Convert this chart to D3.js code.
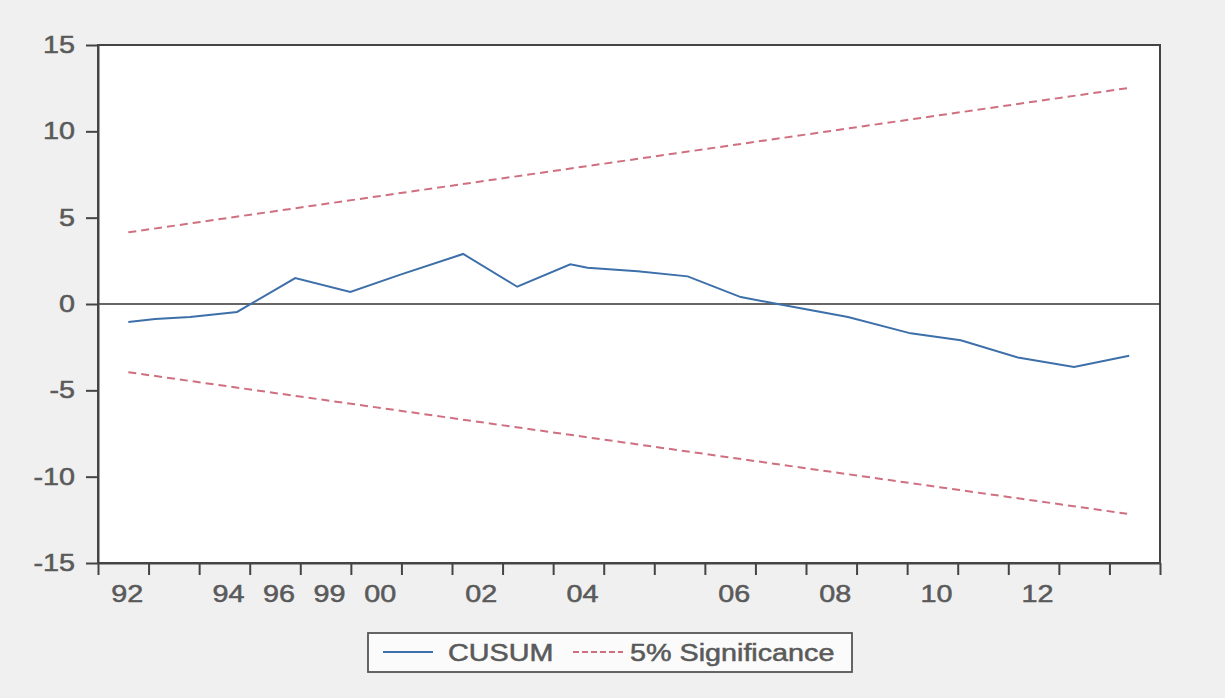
<!DOCTYPE html>
<html>
<head>
<meta charset="utf-8">
<script src="https://cdn.jsdelivr.net/npm/d3@7"></script>
<style>
  body { margin: 0; background: #f0f0f0; }
  svg { display: block; }
</style>
</head>
<body>
<div id="chart"></div>
<script>
// x is measured in axis slots: slot i sits between tick i-0.5 and i+0.5
const obs = [0.1, 0.63, 1.32, 2.25, 3.4, 4.49, 5.48, 6.72, 7.79, 8.84, 9.18,
  10.17, 11.16, 12.21, 12.94, 14.33, 15.57, 16.56, 17.69, 18.8, 19.89];
const cusum = [-1.04, -0.87, -0.75, -0.46, 1.5, 0.7, 1.7, 2.9, 1.0, 2.3, 2.1,
  1.9, 1.6, 0.4, 0.0, -0.75, -1.7, -2.1, -3.1, -3.65, -3.0];

// 5% bounds are straight lines, so only the ends are needed
const boundObs = [0.1, 19.85];
const upper = [4.15, 12.5];
const lower = [-3.95, -12.15];

const slotLabels = ['92', '', '94', '96', '99', '00', '', '02', '', '04', '',
  '', '06', '', '08', '', '10', '', '12', '', ''];
const yTicks = [-15, -10, -5, 0, 5, 10, 15];

const legendItems = ['CUSUM', '5% Significance'];

const width = 1225;
const height = 698;
const margins = {left: 98, top: 45, right: 65, bottom: 135};
const font = '"Liberation Sans", Arial, sans-serif';
const textColor = '#5a5a5a';
const axisColor = '#444';
const blue = '#3d6fa9';
const red = '#cf6f80';
const sx = 1.25; // the scanned text is wider than the font

const chartWidth = width - margins.left - margins.right;
const chartHeight = height - margins.top - margins.bottom;

const svg = d3.select('#chart')
  .append('svg')
  .attr('width', width)
  .attr('height', height);

const g = svg.append('g')
  .attr('transform', 'translate(' + margins.left + ',' + margins.top + ')');

const x = d3.scaleLinear()
  .domain([-0.5, slotLabels.length - 0.5])
  .range([0, chartWidth]);

const y = d3.scaleLinear()
  .domain([-15, 15])
  .range([chartHeight, 0]);

// scanned labels look a bit heavy
const styleText = (sel) =>
  sel
    .attr('font-family', font)
    .attr('font-size', 23)
    .attr('fill', textColor)
    .attr('stroke', textColor)
    .attr('stroke-width', 0.5);

// plot area
g.append('rect')
  .attr('width', chartWidth)
  .attr('height', chartHeight)
  .attr('fill', '#fff')
  .attr('stroke', axisColor)
  .attr('stroke-width', 2);

// zero line
g.append('line')
  .attr('x1', 0)
  .attr('x2', chartWidth)
  .attr('y1', y(0))
  .attr('y2', y(0))
  .attr('stroke', '#333')
  .attr('stroke-width', 1.6);

// Y axis
const yAxis = g.append('g')
  .call(d3.axisLeft(y).tickValues(yTicks).tickFormat((d) => String(d))
    .tickSize(12).tickSizeOuter(0));
yAxis.select('.domain').attr('stroke', axisColor).attr('stroke-width', 2);
yAxis.selectAll('.tick line').attr('stroke', axisColor).attr('stroke-width', 2);
yAxis.selectAll('.tick text')
  .attr('x', -23 / sx)
  .attr('transform', `scale(${sx},1)`)
  .call(styleText);

// X axis: ticks at slot edges, labels in the slots
const tickVals = d3.range(-0.5, slotLabels.length, 1);
const xAxis = g.append('g')
  .attr('transform', 'translate(0,' + chartHeight + ')')
  .call(d3.axisBottom(x).tickValues(tickVals).tickFormat('').tickSize(12).tickSizeOuter(0));
xAxis.select('.domain').attr('stroke', axisColor).attr('stroke-width', 2);
xAxis.selectAll('.tick line').attr('stroke', axisColor).attr('stroke-width', 2);

g.append('g')
  .selectAll('text')
  .data(slotLabels.map((t, i) => ({t, i})).filter((d) => d.t))
  .join('text')
  .attr('transform', (d) => `translate(${x(d.i) + 4},${chartHeight + 39}) scale(${sx},1)`)
  .attr('text-anchor', 'middle')
  .call(styleText)
  .text((d) => d.t);

// lines
const line = d3.line().x((d) => x(d[0])).y((d) => y(d[1]));

const bounds = [d3.zip(boundObs, upper), d3.zip(boundObs, lower)];
g.selectAll('.bound')
  .data(bounds)
  .join('path')
  .attr('class', 'bound')
  .attr('d', line)
  .attr('fill', 'none')
  .attr('stroke', red)
  .attr('stroke-width', 2)
  .attr('stroke-dasharray', '8,5');

g.append('path')
  .datum(d3.zip(obs, cusum))
  .attr('d', line)
  .attr('fill', 'none')
  .attr('stroke', blue)
  .attr('stroke-width', 2);

// legend
const legend = svg.append('g').attr('transform', 'translate(368,633)');
legend.append('rect')
  .attr('width', 484)
  .attr('height', 39)
  .attr('fill', '#fbfbfb')
  .attr('stroke', '#555')
  .attr('stroke-width', 1.8);

const legendPos = [{lx: 15, tx: 80}, {lx: 205, tx: 262}];
const legendStyle = [{c: blue, dash: null}, {c: red, dash: '6,3'}];

legendItems.forEach((name, i) => {
  legend.append('line')
    .attr('x1', legendPos[i].lx)
    .attr('x2', legendPos[i].lx + 50)
    .attr('y1', 19)
    .attr('y2', 19)
    .attr('stroke', legendStyle[i].c)
    .attr('stroke-width', 1.8)
    .attr('stroke-dasharray', legendStyle[i].dash);
  legend.append('text')
    .attr('transform', `translate(${legendPos[i].tx},28) scale(${sx},1)`)
    .call(styleText)
    .text(name);
});
</script>
</body>
</html>
